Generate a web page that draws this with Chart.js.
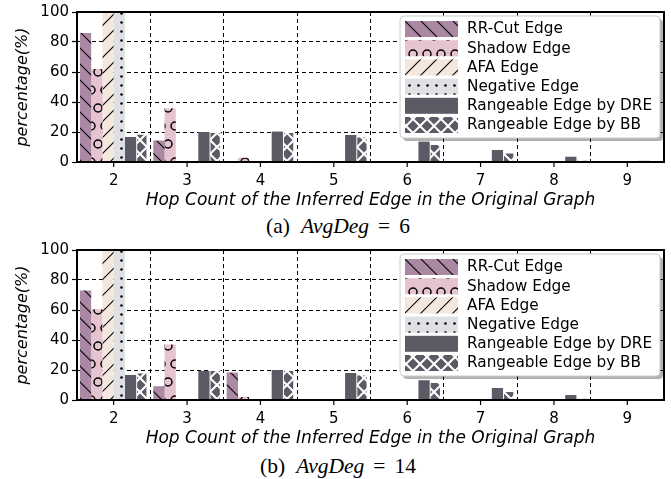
<!DOCTYPE html>
<html>
<head>
<meta charset="utf-8">
<script src="https://cdn.jsdelivr.net/npm/chart.js@4.4.0/dist/chart.umd.min.js"></script>
<style>
  body { margin: 0; background: #fff; width: 671px; height: 479px; position: relative; overflow: hidden; }
  .wrap { position: absolute; left: 0; width: 671px; height: 214px; }
  .cap { position: absolute; left: 0; width: 676px; text-align: center; color: #000; line-height: 24px;
         font-family: 'Liberation Serif', 'DejaVu Serif', serif; font-size: 21.5px; }
  .cap i { font-style: italic; margin-left: 11px; }
  .cap .eq { margin: 0 9px; }
</style>
</head>
<body>
<div class="wrap" style="top:0"><canvas id="chartA" width="671" height="214"></canvas></div>
<div class="cap" style="top:214px">(a)<i>AvgDeg</i><span class="eq">=</span>6</div>
<div class="wrap" style="top:238px"><canvas id="chartB" width="671" height="214"></canvas></div>
<div class="cap" style="top:454px">(b)<i>AvgDeg</i><span class="eq">=</span>14</div>

<script>
// hop counts on the x axis
const hops = ['2', '3', '4', '5', '6', '7', '8', '9'];
const yTicks = [0, 20, 40, 60, 80, 100];
const seriesNames = ['RR-Cut Edge', 'Shadow Edge', 'AFA Edge', 'Negative Edge',
                     'Rangeable Edge by DRE', 'Rangeable Edge by BB'];

// (a) AvgDeg = 6
const rrCutA    = [86, 14.3, 0.3, 0, 0, 0, 0, 0];
const shadowA   = [62, 35.8, 2.8, 0.7, 0.5, 0.3, 0, 0];
const afaA      = [100, 0, 0, 0, 0, 0, 0, 0];
const negativeA = [100, 0, 0, 0, 0, 0, 0, 0];
const dreA      = [16.7, 20, 20.3, 18, 13.6, 8, 3.5, 0.8];
const bbA       = [18.9, 20, 20, 17, 12, 6.3, 1.3, 0.3];

// (b) AvgDeg = 14
const rrCutB    = [73, 9.2, 18.3, 0.2, 0, 0, 0, 0];
const shadowB   = [60.5, 37, 2, 0.6, 0.6, 0.6, 0, 0];
const afaB      = [100, 0, 0, 0, 0, 0, 0, 0];
const negativeB = [100, 0, 0, 0, 0, 0, 0, 0];
const dreB      = [16.7, 19.4, 20, 18, 13.2, 8, 3.3, 0.5];
const bbB       = [18.3, 20, 20, 17, 12, 6, 1.3, 0.3];

Chart.defaults.font.family = 'DejaVu Sans';
Chart.defaults.color = '#000';

// build a small tile and turn it into a fill pattern
function hatch(bg, kind, ink) {
    let w = 16, h = 16;
    if (kind === 'dot') { w = 9; h = 9; }
    if (kind === 'ring') { w = 14; h = 36; }
    if (kind === 'cross') { w = 14; h = 14; }
    const c = document.createElement('canvas');
    c.width = w; c.height = h;
    const g = c.getContext('2d');
    g.fillStyle = bg;
    g.fillRect(0, 0, w, h);
    g.strokeStyle = ink;
    g.fillStyle = ink;
    g.lineWidth = 1.1;
    const s = w;
    const seg = (x1, y1, x2, y2) => { g.beginPath(); g.moveTo(x1, y1); g.lineTo(x2, y2); g.stroke(); };
    if (kind === 'back' || kind === 'cross') {
        if (kind === 'cross') g.lineWidth = 2;
        seg(-1, -1, s + 1, s + 1);
        seg(s - 2, -2, s + 2, 2);
        seg(-2, s - 2, 2, s + 2);
    }
    if (kind === 'fwd' || kind === 'cross') {
        seg(-1, s + 1, s + 1, -1);
        seg(-2, 2, 2, -2);
        seg(s - 2, s + 2, s + 2, s - 2);
    }
    if (kind === 'ring') {
        g.lineWidth = 1.5;
        [[0, 0], [w, 0], [0, h], [w, h], [w / 2, h / 2]].forEach(([cx, cy]) => {
            g.beginPath(); g.arc(cx, cy, 4, 0, Math.PI * 2); g.stroke();
        });
    }
    if (kind === 'dot') {
        g.beginPath(); g.arc(w / 2, h / 2, 1.3, 0, Math.PI * 2); g.fill();
    }
    return g.createPattern(c, 'repeat');
}

const fills = [
    hatch('#ab88a4', 'back', '#000'),
    hatch('#e5c3d0', 'ring', '#000'),
    hatch('#f4e8de', 'fwd', '#000'),
    hatch('#dfe0e4', 'dot', '#000'),
    '#5b5a65',
    hatch('#5b5a65', 'cross', '#fff')
];

// black frame round the plot area
const framePlugin = {
    id: 'frame',
    afterDatasetsDraw(chart) {
        const a = chart.chartArea, ctx = chart.ctx;
        ctx.save();
        ctx.strokeStyle = '#000';
        ctx.lineWidth = 2;
        ctx.strokeRect(a.left, a.top, a.right - a.left, a.bottom - a.top);
        // x tick marks sit on the category centres
        const xs = chart.scales.x;
        ctx.lineWidth = 1.2;
        hops.forEach((h, i) => {
            const px = xs.getPixelForValue(i);
            ctx.beginPath();
            ctx.moveTo(px, a.bottom);
            ctx.lineTo(px, a.bottom + 5);
            ctx.stroke();
        });
        ctx.restore();
    }
};

// legend box drawn inside the plot, top right
const boxLegend = {
    id: 'boxLegend',
    afterDraw(chart) {
        const ctx = chart.ctx, a = chart.chartArea;
        const w = 260, h = 122;
        const x = a.right - w - 4, y = a.top + 4;
        ctx.save();
        ctx.fillStyle = 'rgba(0,0,0,0.3)';
        ctx.beginPath(); ctx.roundRect(x + 3, y + 3, w, h, 4); ctx.fill();
        ctx.fillStyle = '#fff';
        ctx.strokeStyle = '#cccccc';
        ctx.lineWidth = 1;
        ctx.beginPath(); ctx.roundRect(x, y, w, h, 4); ctx.fill(); ctx.stroke();
        ctx.font = '15.3px "DejaVu Sans"';
        ctx.textBaseline = 'middle';
        chart.data.datasets.forEach((ds, i) => {
            const ry = y + 5 + i * 19.2;
            ctx.fillStyle = ds.backgroundColor;
            ctx.fillRect(x + 5, ry, 53, 16);
            ctx.fillStyle = '#000';
            ctx.fillText(ds.label, x + 67, ry + 8.5);
        });
        ctx.restore();
    }
};

function makeChart(id, series) {
    const ctx = document.getElementById(id).getContext('2d');
    return new Chart(ctx, {
        type: 'bar',
        data: {
            labels: hops,
            datasets: series.map((vals, i) => ({
                label: seriesNames[i],
                data: vals,
                backgroundColor: fills[i],
                borderColor: i === 5 ? '#ffffff' : 'rgba(0,0,0,0)',
                borderWidth: i === 5 ? 1 : 0,
                categoryPercentage: 0.92,
                barPercentage: 1.0
            }))
        },
        options: {
            responsive: false,
            animation: false,
            layout: { padding: { top: 11, right: 7, left: 0, bottom: 0 } },
            plugins: { legend: { display: false }, tooltip: { enabled: false } },
            scales: {
                x: {
                    afterFit: s => { s.height = 52; },
                    grid: { color: '#000', lineWidth: 1, drawTicks: false, offset: true },
                    border: { display: true, color: '#000', width: 2, dash: [4, 3] },
                    ticks: { font: { size: 15 }, padding: 10 },
                    title: {
                        display: true,
                        text: 'Hop Count of the Inferred Edge in the Original Graph',
                        font: { size: 17, style: 'italic' },
                        padding: { top: 0, bottom: 3 }
                    }
                },
                y: {
                    min: 0,
                    max: 100,
                    afterFit: s => { s.width = 77; },
                    afterBuildTicks: s => { s.ticks = yTicks.map(v => ({ value: v })); },
                    grid: { color: '#000', lineWidth: 1, tickLength: 5, tickColor: '#000', tickWidth: 1.2, tickBorderDash: [] },
                    border: { display: true, color: '#000', width: 2, dash: [4, 3] },
                    ticks: { font: { size: 15 }, padding: 3 },
                    title: {
                        display: true,
                        text: 'percentage(%)',
                        font: { size: 16, style: 'italic' },
                        padding: { top: 13, bottom: 0 }
                    }
                }
            }
        },
        plugins: [framePlugin, boxLegend]
    });
}

makeChart('chartA', [rrCutA, shadowA, afaA, negativeA, dreA, bbA]);
makeChart('chartB', [rrCutB, shadowB, afaB, negativeB, dreB, bbB]);
</script>
</body>
</html>
